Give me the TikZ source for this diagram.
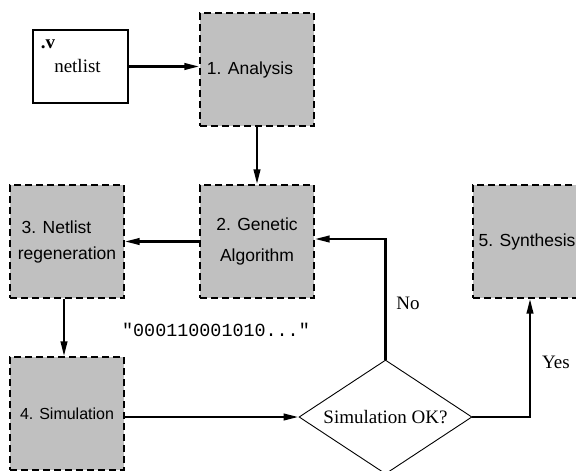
\documentclass[tikz,border=0pt]{standalone}
\usepackage{fontspec}
\setmainfont{Liberation Serif}
\setsansfont{Liberation Sans}
\setmonofont{Liberation Mono}
\usetikzlibrary{arrows.meta,shapes.geometric}
\definecolor{boxgray}{HTML}{C0C0C0}
\begin{document}
\begin{tikzpicture}[x=1pt,y=-1pt,
  stage/.style={draw, fill=boxgray, line width=1.4pt, dash pattern=on 7pt off 4pt,
    minimum width=114pt, minimum height=113pt, inner sep=0pt, align=center,
    font=\sffamily\fontsize{17.5}{21}\selectfont},
  conn/.style={line width=2.4pt, -{Triangle[length=15pt,width=6.5pt]}},
  serif/.style={font=\rmfamily\fontsize{19}{23}\selectfont}]
\useasboundingbox (0,0) rectangle (576,471);
% input box
\node[draw, line width=1.3pt, minimum width=95pt, minimum height=73pt, inner sep=0pt, serif] (net) at (80.5,66.5) {netlist\hspace*{6pt}};
\node[serif, font=\rmfamily\bfseries\fontsize{19}{23}\selectfont, inner sep=0pt] (v) at (48,44) {.v};
% stages
\node[stage] (ana) at (257,69.5) {1. Analysis\hspace*{14pt}};
\node[stage] (ga) at (257,241.5) {2. Genetic\\[10pt]Algorithm};
\node[stage] (regen) at (67,241.5) {3. Netlist\hspace*{21pt}\\[5pt]regeneration};
\node[stage, font=\sffamily\fontsize{16}{19}\selectfont] (sim) at (67,413.5) {4. Simulation};
\node[stage] (syn) at (530,241.5) {5. Synthesis\hspace*{6pt}};
% decision
\node[draw, diamond, aspect=1.52, minimum width=173pt, minimum height=114pt, inner sep=0pt, line width=0.9pt, serif] (dia) at (385.5,417) {Simulation OK?};
% labels
\node[font=\ttfamily\fontsize{18.4}{22}\selectfont] (bits) at (216,330) {"000110001010..."};
\node[serif] (no) at (408,303) {No};
\node[serif] (yes) at (556,362) {Yes};
% connectors
\draw[conn] (net.east) -- (net.east -| ana.west);
\draw[conn] (ana.south) -- (ga.north);
\draw[conn] (ga.west) -- (regen.east);
\draw[conn] ([xshift=-3pt]regen.south) -- ([xshift=-3pt]sim.north);
\draw[conn] (sim.east |- dia.west) -- (dia.west);
\draw[conn] (dia.east) -| (syn.south);
\draw[conn] (dia.north) |- ([yshift=2.5pt]ga.east);
\end{tikzpicture}
\end{document}
